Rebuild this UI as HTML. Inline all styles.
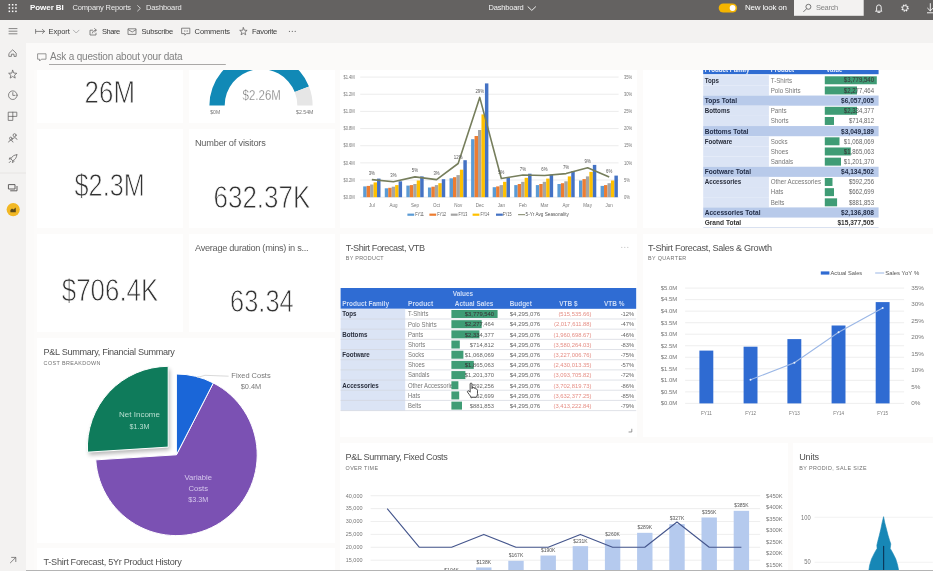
<!DOCTYPE html>
<html lang="en"><head><meta charset="utf-8"><title>Power BI - Dashboard</title>
<style>
*{box-sizing:border-box;margin:0;padding:0}
html,body{width:933px;height:571px;overflow:hidden;background:#fbfaf9;font-family:"Liberation Sans",sans-serif;}
body{position:relative}
header,nav,main,.toolbar,.qna{position:absolute;overflow:hidden}
header{left:0;top:0;width:933px;height:20px;background:#646261}
nav{left:0;top:20px;width:26px;height:551px;background:#f3f2f1}
.toolbar{left:26px;top:20px;width:907px;height:22.5px;background:#f3f2f1}
main{left:0;top:43px;width:933px;height:528px;}
.t{position:absolute;white-space:nowrap;display:block;font-weight:normal}
svg{position:absolute;overflow:visible}
svg text{font-family:"Liberation Sans",sans-serif}
.tile{position:absolute;background:#fff;overflow:hidden}
header>*,nav>*,.toolbar>*,.qna>*,main{filter:blur(.55px)}
.ic{fill:none;stroke:#626060;stroke-width:.75;stroke-linecap:round;stroke-linejoin:round}
.icw{fill:none;stroke:#fff;stroke-width:.9;stroke-linecap:round;stroke-linejoin:round}
</style></head><body>
<header>
<svg width="933" height="20" viewBox="0 0 933 20" style="left:0;top:0">
<rect x="8.6" y="4" width="1.5" height="1.5" fill="#fff"/>
<rect x="8.6" y="7.3" width="1.5" height="1.5" fill="#fff"/>
<rect x="8.6" y="10.6" width="1.5" height="1.5" fill="#fff"/>
<rect x="11.9" y="4" width="1.5" height="1.5" fill="#fff"/>
<rect x="11.9" y="7.3" width="1.5" height="1.5" fill="#fff"/>
<rect x="11.9" y="10.6" width="1.5" height="1.5" fill="#fff"/>
<rect x="15.2" y="4" width="1.5" height="1.5" fill="#fff"/>
<rect x="15.2" y="7.3" width="1.5" height="1.5" fill="#fff"/>
<rect x="15.2" y="10.6" width="1.5" height="1.5" fill="#fff"/>
<polyline class="icw" points="137.6,5.6 140.4,8.3 137.6,11" style="stroke-width:.8;stroke:#e6e6e6"/>
<polyline class="icw" points="528,6.8 531.8,10.4 535.6,6.8"/>
<rect x="718.7" y="3.4" width="18.4" height="9.2" rx="4.6" fill="#f4b400"/><circle cx="732.6" cy="8" r="2.9" fill="#fff"/>
<rect x="794" y="0" width="69.7" height="15.8" fill="#f3f2f1"/>
<circle cx="808.4" cy="6.8" r="2.5" fill="none" stroke="#555" stroke-width=".8"/><line x1="806.6" y1="8.7" x2="803.4" y2="11.9" stroke="#555" stroke-width=".8"/>
<path class="icw" d="M876.6 10.2V7.2a2.3 2.3 0 0 1 4.6 0v3l.7 1h-6z M877.9 12.4h2"/>
<circle cx="905" cy="8" r="3.1" fill="none" stroke="#fff" stroke-width="1.2" stroke-dasharray="1.3 1.13"/><circle cx="905" cy="8" r="2.4" fill="none" stroke="#fff" stroke-width=".8"/>
<path class="icw" d="M930.3 3.6v7.2M927.6 8.2l2.7 2.7 2.7-2.7M927.4 12.8h6"/>
</svg>
<span class="t" style="left:30px;top:4px;font-size:8px;line-height:8px;letter-spacing:-0.066px;color:#fff;font-weight:bold;">Power BI</span>
<span class="t" style="left:72.4px;top:4.25px;font-size:7.5px;line-height:7.5px;letter-spacing:-0.123px;color:#ececec;">Company Reports</span>
<span class="t" style="left:146px;top:4.25px;font-size:7.5px;line-height:7.5px;letter-spacing:-0.121px;color:#ececec;">Dashboard</span>
<span class="t" style="left:488.6px;top:4.25px;font-size:7.5px;line-height:7.5px;letter-spacing:-0.199px;color:#f4f4f4;">Dashboard</span>
<span class="t" style="left:745px;top:4px;font-size:8px;line-height:8px;letter-spacing:-0.211px;color:#fff;">New look on</span>
<span class="t" style="left:816px;top:4.25px;font-size:7.5px;line-height:7.5px;letter-spacing:-0.294px;color:#858585;">Search</span>
</header>
<nav>
<svg width="26" height="551" viewBox="0 20 26 551" style="left:0;top:0">
<line class="ic" x1="9" y1="28.6" x2="17" y2="28.6"/>
<line class="ic" x1="9" y1="31.2" x2="17" y2="31.2"/>
<line class="ic" x1="9" y1="33.8" x2="17" y2="33.8"/>
<path class="ic" d="M9.2 53.2L12.7 49.8L16.2 53.2V56.4H14V54.2H11.4V56.4H9.2Z"/>
<polygon class="ic" points="12.7,70.3 13.82,73.06 16.79,73.27 14.51,75.19 15.23,78.08 12.7,76.5 10.17,78.08 10.89,75.19 8.61,73.27 11.58,73.06"/>
<circle class="ic" cx="12.8" cy="95.2" r="4.3"/><path class="ic" d="M12.8 92.6V95.4H15"/>
<path class="ic" d="M8.6 112.2H16.8V116.4H12.8V120.4H8.6Z M12.8 112.2V116.4 M8.6 116.4H12.8"/>
<circle class="ic" cx="14.6" cy="135.2" r="1.5"/><circle class="ic" cx="10.8" cy="138.4" r="1.3"/><path class="ic" d="M12.4 139.4a2.4 2.4 0 0 1 4.6 0 M8.6 142a2.3 2.3 0 0 1 4.4 0"/>
<path class="ic" d="M16.8 154.8c-2.6 0-4.6 1.4-6 4l2 2c2.6-1.4 4-3.4 4-6Z M10.8 158.8l-1.8.4 1.2-1.8 M12.8 160.8l-.4 1.8 1.8-1.2 M9.2 162.6l1.4-1.4"/>
<line x1="0" y1="173" x2="26" y2="173" stroke="#e3e2e1" stroke-width=".8"/>
<path class="ic" d="M8.8 184.6H15V189H8.8Z M10.6 190.8H17V186.4" style="stroke-width:1"/>
<circle cx="13.2" cy="209.6" r="6.6" fill="#f2b824"/><path d="M10.4 212.2V210l1.6-1.6 1.4 1 2.4-2v4.8Z" fill="#5b4a1a"/>
<path class="ic" d="M10.4 562.8L15.6 557.6M11.6 557.4H15.8V561.6"/>
</svg>
</nav>
<div class="toolbar">
<svg width="907" height="23" viewBox="26 20 907 23" style="left:0;top:0">
<path class="ic" d="M35.6 29.4V33.4M36 31.4H44.4M42.4 29.4L44.6 31.4L42.4 33.4"/>
<polyline class="ic" points="73.4,30.2 76.2,33 79,30.2" style="stroke:#999"/>
<path class="ic" d="M92.6 30.2H90V35H96V33.2 M92.4 33c.4-1.8 1.6-2.8 3.6-2.8M94.6 28.6L96.4 30.2L94.6 31.8"/>
<path class="ic" d="M128.4 28.8H136V34.4H128.4Z M128.6 29.8L132.2 32L135.8 29.8"/>
<path class="ic" d="M182 28.2H189.8V33.6H186.6L184.8 35.2V33.6H182Z M184.4 31h.2M185.9 31h.2M187.4 31h.2"/>
<polygon class="ic" points="243.4,27.7 244.4,30.22 247.11,30.39 245.02,32.13 245.69,34.76 243.4,33.3 241.11,34.76 241.78,32.13 239.69,30.39 242.4,30.22"/>
<circle cx="289.4" cy="31.4" r=".55" fill="#666"/>
<circle cx="292.3" cy="31.4" r=".55" fill="#666"/>
<circle cx="295.2" cy="31.4" r=".55" fill="#666"/>
</svg>
<span class="t" style="left:22.6px;top:7.65px;font-size:7.5px;line-height:7.5px;letter-spacing:-0.079px;color:#3a3a3a;">Export</span>
<span class="t" style="left:76px;top:7.65px;font-size:7.5px;line-height:7.5px;letter-spacing:-0.463px;color:#3a3a3a;">Share</span>
<span class="t" style="left:115.5px;top:7.65px;font-size:7.5px;line-height:7.5px;letter-spacing:-0.206px;color:#3a3a3a;">Subscribe</span>
<span class="t" style="left:168.6px;top:7.65px;font-size:7.5px;line-height:7.5px;letter-spacing:-0.107px;color:#3a3a3a;">Comments</span>
<span class="t" style="left:226px;top:7.65px;font-size:7.5px;line-height:7.5px;letter-spacing:-0.262px;color:#3a3a3a;">Favorite</span>
</div>
<div class="qna" style="left:0;top:43px;width:933px;height:26.5px">
<svg width="200" height="30" viewBox="30 45 200 30" style="left:30px;top:2px">
<path class="ic" d="M38 53.8H46V59.2H41.4L39.6 61V59.2H38Z" style="stroke:#777"/>
<line x1="49" y1="64.6" x2="225.8" y2="64.6" stroke="#8a8886" stroke-width=".8"/>
</svg>
<span class="t" style="left:50px;top:9px;font-size:10px;line-height:10px;letter-spacing:-0.182px;color:#828282;">Ask a question about your data</span>
</div>
<main style="top:69.5px;height:501.5px"><div style="position:absolute;left:34px;top:0;width:899px;height:502px;background:#fcfbfa"></div>
<section class="tile" aria-label="Card" style="left:37px;top:0px;width:146px;height:53.8px">
<svg class="viz" viewBox="37 69.5 146 53.8" width="146" height="53.8" style="left:0px;top:0px">
<text x="84.6" y="102.9" font-size="30.96" fill="#333" stroke="#fff" stroke-width="0.8" textLength="50.4" lengthAdjust="spacingAndGlyphs">26M</text>
</svg>
</section>
<section class="tile" aria-label="Gauge" style="left:188.8px;top:0px;width:146px;height:53.8px">
<svg class="viz" viewBox="188.8 69.5 146 53.8" width="146" height="53.8" style="left:0px;top:0px">
<path d="M209.2 104.9A51.6 51.6 0 0 1 308.81 85.99L294.57 91.6A36.3 36.3 0 0 0 224.5 104.9Z" fill="#1189b6"/>
<path d="M308.81 85.99A51.6 51.6 0 0 1 312.4 104.9L297.1 104.9A36.3 36.3 0 0 0 294.57 91.6Z" fill="#e6e6e6"/>
<text x="242.4" y="99.8" font-size="14.7" fill="#444" stroke="#fff" stroke-width=".5" textLength="38.3" lengthAdjust="spacingAndGlyphs">$2.26M</text>
<text x="210" y="113.93" font-size="5.6" fill="#777" textLength="10" lengthAdjust="spacingAndGlyphs">$0M</text>
<text x="295.8" y="113.93" font-size="5.6" fill="#777" textLength="17.4" lengthAdjust="spacingAndGlyphs">$2.54M</text>
</svg>
</section>
<section class="tile" aria-label="Monthly sales chart" style="left:339.8px;top:0px;width:297.2px;height:158.5px">
<svg class="viz" viewBox="339.8 69.5 297.2 158.5" width="297.2" height="158.5" style="left:0px;top:0px">
<line x1="360" y1="196.7" x2="618.4" y2="196.7" stroke="#e4e4e4" stroke-width="0.7"/>
<text x="343.2" y="198.35" font-size="4.8" fill="#777" textLength="11.4" lengthAdjust="spacingAndGlyphs">$0.0M</text>
<text x="623.8" y="198.35" font-size="4.8" fill="#777" textLength="6" lengthAdjust="spacingAndGlyphs">0%</text>
<line x1="360" y1="179.54" x2="618.4" y2="179.54" stroke="#e4e4e4" stroke-width="0.7"/>
<text x="343.2" y="181.19" font-size="4.8" fill="#777" textLength="11.4" lengthAdjust="spacingAndGlyphs">$0.2M</text>
<text x="623.8" y="181.19" font-size="4.8" fill="#777" textLength="6" lengthAdjust="spacingAndGlyphs">5%</text>
<line x1="360" y1="162.38" x2="618.4" y2="162.38" stroke="#e4e4e4" stroke-width="0.7"/>
<text x="343.2" y="164.03" font-size="4.8" fill="#777" textLength="11.4" lengthAdjust="spacingAndGlyphs">$0.4M</text>
<text x="623.8" y="164.03" font-size="4.8" fill="#777" textLength="8.2" lengthAdjust="spacingAndGlyphs">10%</text>
<line x1="360" y1="145.22" x2="618.4" y2="145.22" stroke="#e4e4e4" stroke-width="0.7"/>
<text x="343.2" y="146.87" font-size="4.8" fill="#777" textLength="11.4" lengthAdjust="spacingAndGlyphs">$0.6M</text>
<text x="623.8" y="146.87" font-size="4.8" fill="#777" textLength="8.2" lengthAdjust="spacingAndGlyphs">15%</text>
<line x1="360" y1="128.06" x2="618.4" y2="128.06" stroke="#e4e4e4" stroke-width="0.7"/>
<text x="343.2" y="129.71" font-size="4.8" fill="#777" textLength="11.4" lengthAdjust="spacingAndGlyphs">$0.8M</text>
<text x="623.8" y="129.71" font-size="4.8" fill="#777" textLength="8.2" lengthAdjust="spacingAndGlyphs">20%</text>
<line x1="360" y1="110.9" x2="618.4" y2="110.9" stroke="#e4e4e4" stroke-width="0.7"/>
<text x="343.2" y="112.55" font-size="4.8" fill="#777" textLength="11.4" lengthAdjust="spacingAndGlyphs">$1.0M</text>
<text x="623.8" y="112.55" font-size="4.8" fill="#777" textLength="8.2" lengthAdjust="spacingAndGlyphs">25%</text>
<line x1="360" y1="93.74" x2="618.4" y2="93.74" stroke="#e4e4e4" stroke-width="0.7"/>
<text x="343.2" y="95.39" font-size="4.8" fill="#777" textLength="11.4" lengthAdjust="spacingAndGlyphs">$1.2M</text>
<text x="623.8" y="95.39" font-size="4.8" fill="#777" textLength="8.2" lengthAdjust="spacingAndGlyphs">30%</text>
<line x1="360" y1="76.58" x2="618.4" y2="76.58" stroke="#e4e4e4" stroke-width="0.7"/>
<text x="343.2" y="78.23" font-size="4.8" fill="#777" textLength="11.4" lengthAdjust="spacingAndGlyphs">$1.4M</text>
<text x="623.8" y="78.23" font-size="4.8" fill="#777" textLength="8.2" lengthAdjust="spacingAndGlyphs">35%</text>
<rect x="363" y="185.9" width="3.46" height="10.8" fill="#5b9bd5"/>
<rect x="366.46" y="185.4" width="3.46" height="11.3" fill="#ed7d31"/>
<rect x="369.92" y="184" width="3.46" height="12.7" fill="#a5a5a5"/>
<rect x="373.38" y="181.9" width="3.46" height="14.8" fill="#ffc000"/>
<rect x="376.84" y="178.1" width="3.46" height="18.6" fill="#4472c4"/>
<text x="371.65" y="206.25" font-size="4.8" fill="#777" text-anchor="middle" textLength="5.77" lengthAdjust="spacingAndGlyphs">Jul</text>
<rect x="384.58" y="187.8" width="3.46" height="8.9" fill="#5b9bd5"/>
<rect x="388.04" y="187.3" width="3.46" height="9.4" fill="#ed7d31"/>
<rect x="391.5" y="186.2" width="3.46" height="10.5" fill="#a5a5a5"/>
<rect x="394.96" y="184.6" width="3.46" height="12.1" fill="#ffc000"/>
<rect x="398.42" y="180.8" width="3.46" height="15.9" fill="#4472c4"/>
<text x="393.23" y="206.25" font-size="4.8" fill="#777" text-anchor="middle" textLength="8.03" lengthAdjust="spacingAndGlyphs">Aug</text>
<rect x="406.16" y="185.1" width="3.46" height="11.6" fill="#5b9bd5"/>
<rect x="409.62" y="184.6" width="3.46" height="12.1" fill="#ed7d31"/>
<rect x="413.08" y="183.5" width="3.46" height="13.2" fill="#a5a5a5"/>
<rect x="416.54" y="180" width="3.46" height="16.7" fill="#ffc000"/>
<rect x="420" y="175.9" width="3.46" height="20.8" fill="#4472c4"/>
<text x="414.81" y="206.25" font-size="4.8" fill="#777" text-anchor="middle" textLength="8.03" lengthAdjust="spacingAndGlyphs">Sep</text>
<rect x="427.74" y="187" width="3.46" height="9.7" fill="#5b9bd5"/>
<rect x="431.2" y="186.2" width="3.46" height="10.5" fill="#ed7d31"/>
<rect x="434.66" y="184.6" width="3.46" height="12.1" fill="#a5a5a5"/>
<rect x="438.12" y="182.7" width="3.46" height="14" fill="#ffc000"/>
<rect x="441.58" y="178.7" width="3.46" height="18" fill="#4472c4"/>
<text x="436.39" y="206.25" font-size="4.8" fill="#777" text-anchor="middle" textLength="7.02" lengthAdjust="spacingAndGlyphs">Oct</text>
<rect x="449.32" y="177.8" width="3.46" height="18.9" fill="#5b9bd5"/>
<rect x="452.78" y="176.7" width="3.46" height="20" fill="#ed7d31"/>
<rect x="456.24" y="174.6" width="3.46" height="22.1" fill="#a5a5a5"/>
<rect x="459.7" y="169.2" width="3.46" height="27.5" fill="#ffc000"/>
<rect x="463.16" y="159.7" width="3.46" height="37" fill="#4472c4"/>
<text x="457.97" y="206.25" font-size="4.8" fill="#777" text-anchor="middle" textLength="8.02" lengthAdjust="spacingAndGlyphs">Nov</text>
<rect x="470.9" y="138.7" width="3.46" height="58" fill="#5b9bd5"/>
<rect x="474.36" y="135.5" width="3.46" height="61.2" fill="#ed7d31"/>
<rect x="477.82" y="129.5" width="3.46" height="67.2" fill="#a5a5a5"/>
<rect x="481.28" y="113.9" width="3.46" height="82.8" fill="#ffc000"/>
<rect x="484.74" y="82.9" width="3.46" height="113.8" fill="#4472c4"/>
<text x="479.55" y="206.25" font-size="4.8" fill="#777" text-anchor="middle" textLength="8.02" lengthAdjust="spacingAndGlyphs">Dec</text>
<rect x="492.48" y="186.7" width="3.46" height="10" fill="#5b9bd5"/>
<rect x="495.94" y="185.9" width="3.46" height="10.8" fill="#ed7d31"/>
<rect x="499.4" y="184.6" width="3.46" height="12.1" fill="#a5a5a5"/>
<rect x="502.86" y="181.3" width="3.46" height="15.4" fill="#ffc000"/>
<rect x="506.32" y="177.3" width="3.46" height="19.4" fill="#4472c4"/>
<text x="501.13" y="206.25" font-size="4.8" fill="#777" text-anchor="middle" textLength="7.27" lengthAdjust="spacingAndGlyphs">Jan</text>
<rect x="514.06" y="184.6" width="3.46" height="12.1" fill="#5b9bd5"/>
<rect x="517.52" y="183.5" width="3.46" height="13.2" fill="#ed7d31"/>
<rect x="520.98" y="181.3" width="3.46" height="15.4" fill="#a5a5a5"/>
<rect x="524.44" y="177.3" width="3.46" height="19.4" fill="#ffc000"/>
<rect x="527.9" y="173.2" width="3.46" height="23.5" fill="#4472c4"/>
<text x="522.71" y="206.25" font-size="4.8" fill="#777" text-anchor="middle" textLength="7.78" lengthAdjust="spacingAndGlyphs">Feb</text>
<rect x="535.64" y="184.6" width="3.46" height="12.1" fill="#5b9bd5"/>
<rect x="539.1" y="183.5" width="3.46" height="13.2" fill="#ed7d31"/>
<rect x="542.56" y="181.3" width="3.46" height="15.4" fill="#a5a5a5"/>
<rect x="546.02" y="178.1" width="3.46" height="18.6" fill="#ffc000"/>
<rect x="549.48" y="174.1" width="3.46" height="22.6" fill="#4472c4"/>
<text x="544.29" y="206.25" font-size="4.8" fill="#777" text-anchor="middle" textLength="7.77" lengthAdjust="spacingAndGlyphs">Mar</text>
<rect x="557.22" y="183.5" width="3.46" height="13.2" fill="#5b9bd5"/>
<rect x="560.68" y="182.7" width="3.46" height="14" fill="#ed7d31"/>
<rect x="564.14" y="180.8" width="3.46" height="15.9" fill="#a5a5a5"/>
<rect x="567.6" y="175.9" width="3.46" height="20.8" fill="#ffc000"/>
<rect x="571.06" y="170.6" width="3.46" height="26.1" fill="#4472c4"/>
<text x="565.87" y="206.25" font-size="4.8" fill="#777" text-anchor="middle" textLength="7.02" lengthAdjust="spacingAndGlyphs">Apr</text>
<rect x="578.8" y="180" width="3.46" height="16.7" fill="#5b9bd5"/>
<rect x="582.26" y="178.6" width="3.46" height="18.1" fill="#ed7d31"/>
<rect x="585.72" y="175.9" width="3.46" height="20.8" fill="#a5a5a5"/>
<rect x="589.18" y="171.4" width="3.46" height="25.3" fill="#ffc000"/>
<rect x="592.64" y="164.4" width="3.46" height="32.3" fill="#4472c4"/>
<text x="587.45" y="206.25" font-size="4.8" fill="#777" text-anchor="middle" textLength="8.52" lengthAdjust="spacingAndGlyphs">May</text>
<rect x="600.38" y="185.4" width="3.46" height="11.3" fill="#5b9bd5"/>
<rect x="603.84" y="184.6" width="3.46" height="12.1" fill="#ed7d31"/>
<rect x="607.3" y="182.7" width="3.46" height="14" fill="#a5a5a5"/>
<rect x="610.76" y="180" width="3.46" height="16.7" fill="#ffc000"/>
<rect x="614.22" y="175.1" width="3.46" height="21.6" fill="#4472c4"/>
<text x="609.03" y="206.25" font-size="4.8" fill="#777" text-anchor="middle" textLength="7.27" lengthAdjust="spacingAndGlyphs">Jun</text>
<polyline points="371.65,179.1 393.23,181.3 414.81,176.4 436.39,179.1 457.97,163 479.55,96.9 501.13,178 522.71,174.5 544.29,175 565.87,173.1 587.45,167.2 609.03,176.6" fill="none" stroke="#767e5c" stroke-width="1.6" stroke-linejoin="round"/>
<text x="371.65" y="174.68" font-size="4.6" fill="#555" text-anchor="middle" textLength="6.25" lengthAdjust="spacingAndGlyphs">3%</text>
<text x="393.23" y="176.88" font-size="4.6" fill="#555" text-anchor="middle" textLength="6.25" lengthAdjust="spacingAndGlyphs">3%</text>
<text x="414.81" y="171.98" font-size="4.6" fill="#555" text-anchor="middle" textLength="6.25" lengthAdjust="spacingAndGlyphs">5%</text>
<text x="436.39" y="174.68" font-size="4.6" fill="#555" text-anchor="middle" textLength="6.25" lengthAdjust="spacingAndGlyphs">3%</text>
<text x="457.97" y="158.58" font-size="4.6" fill="#555" text-anchor="middle" textLength="8.65" lengthAdjust="spacingAndGlyphs">12%</text>
<text x="479.55" y="92.48" font-size="4.6" fill="#555" text-anchor="middle" textLength="8.65" lengthAdjust="spacingAndGlyphs">29%</text>
<text x="501.13" y="173.58" font-size="4.6" fill="#555" text-anchor="middle" textLength="6.25" lengthAdjust="spacingAndGlyphs">5%</text>
<text x="522.71" y="170.08" font-size="4.6" fill="#555" text-anchor="middle" textLength="6.25" lengthAdjust="spacingAndGlyphs">7%</text>
<text x="544.29" y="170.58" font-size="4.6" fill="#555" text-anchor="middle" textLength="6.25" lengthAdjust="spacingAndGlyphs">6%</text>
<text x="565.87" y="168.68" font-size="4.6" fill="#555" text-anchor="middle" textLength="6.25" lengthAdjust="spacingAndGlyphs">7%</text>
<text x="587.45" y="162.78" font-size="4.6" fill="#555" text-anchor="middle" textLength="6.25" lengthAdjust="spacingAndGlyphs">9%</text>
<text x="609.03" y="172.18" font-size="4.6" fill="#555" text-anchor="middle" textLength="6.25" lengthAdjust="spacingAndGlyphs">6%</text>
<rect x="407.2" y="213.1" width="6.8" height="2.2" fill="#5b9bd5"/>
<text x="415" y="215.78" font-size="4.6" fill="#555" textLength="8.8" lengthAdjust="spacingAndGlyphs">FY11</text>
<rect x="429.2" y="213.1" width="6.8" height="2.2" fill="#ed7d31"/>
<text x="437" y="215.78" font-size="4.6" fill="#555" textLength="8.8" lengthAdjust="spacingAndGlyphs">FY12</text>
<rect x="450.6" y="213.1" width="6.8" height="2.2" fill="#a5a5a5"/>
<text x="458.2" y="215.78" font-size="4.6" fill="#555" textLength="8.8" lengthAdjust="spacingAndGlyphs">FY13</text>
<rect x="472.4" y="213.1" width="6.8" height="2.2" fill="#ffc000"/>
<text x="480.2" y="215.78" font-size="4.6" fill="#555" textLength="8.8" lengthAdjust="spacingAndGlyphs">FY14</text>
<rect x="495.8" y="213.1" width="6.8" height="2.2" fill="#4472c4"/>
<text x="502.5" y="215.78" font-size="4.6" fill="#555" textLength="8.8" lengthAdjust="spacingAndGlyphs">FY15</text>
<line x1="517.9" y1="214.2" x2="524.9" y2="214.2" stroke="#7a8262" stroke-width="1"/>
<text x="525.4" y="215.78" font-size="4.6" fill="#555" textLength="43.2" lengthAdjust="spacingAndGlyphs">5-Yr Avg Seasonality</text>
</svg>
</section>
<section class="tile" aria-label="Sales matrix" style="left:642.8px;top:0px;width:297.2px;height:158.5px">
<svg class="viz" viewBox="642.8 69.5 290.2 158.5" width="290.2" height="158.5" style="left:0px;top:0px">
<rect x="703" y="62" width="175.4" height="11.7" fill="#2f6cd2"/>
<text x="704.5" y="71.87" font-size="6.6" fill="#e8eefb" font-weight="bold" textLength="44.82" lengthAdjust="spacingAndGlyphs">Product Family</text>
<text x="770.5" y="71.87" font-size="6.6" fill="#e8eefb" font-weight="bold" textLength="23.44" lengthAdjust="spacingAndGlyphs">Product</text>
<text x="826" y="71.87" font-size="6.6" fill="#e8eefb" font-weight="bold" textLength="16.21" lengthAdjust="spacingAndGlyphs">Value</text>
<rect x="703" y="74.7" width="65.7" height="10.17" fill="#dbe4f5"/>
<text x="704.5" y="82.06" font-size="6.6" fill="#2a2f3d" font-weight="bold" textLength="14.36" lengthAdjust="spacingAndGlyphs">Tops</text>
<text x="770.5" y="82.06" font-size="6.6" fill="#777" textLength="21.37" lengthAdjust="spacingAndGlyphs">T-Shirts</text>
<rect x="824.6" y="75.8" width="52" height="7.97" fill="#3f9c75"/>
<text x="873.8" y="81.99" font-size="6.4" fill="#666" text-anchor="end" textLength="30.11" lengthAdjust="spacingAndGlyphs">$3,779,540</text>
<clipPath id="cd0"><rect x="824.6" y="75.8" width="52" height="7.97"/></clipPath>
<text x="873.8" y="81.99" font-size="6.4" fill="#27483a" text-anchor="end" textLength="30.11" lengthAdjust="spacingAndGlyphs" clip-path="url(#cd0)">$3,779,540</text>
<rect x="703" y="84.87" width="65.7" height="10.17" fill="#dbe4f5"/>
<text x="770.5" y="92.23" font-size="6.6" fill="#777" textLength="30" lengthAdjust="spacingAndGlyphs">Polo Shirts</text>
<rect x="824.6" y="85.97" width="32.2" height="7.97" fill="#3f9c75"/>
<text x="873.8" y="92.16" font-size="6.4" fill="#666" text-anchor="end" textLength="30.11" lengthAdjust="spacingAndGlyphs">$2,277,464</text>
<clipPath id="cd1"><rect x="824.6" y="85.97" width="32.2" height="7.97"/></clipPath>
<text x="873.8" y="92.16" font-size="6.4" fill="#27483a" text-anchor="end" textLength="30.11" lengthAdjust="spacingAndGlyphs" clip-path="url(#cd1)">$2,277,464</text>
<rect x="703" y="95.04" width="175.4" height="10.17" fill="#b8caea"/>
<text x="704.5" y="102.53" font-size="7" fill="#1f2a44" font-weight="bold" textLength="32.29" lengthAdjust="spacingAndGlyphs">Tops Total</text>
<text x="873.8" y="102.53" font-size="7" fill="#1f2a44" text-anchor="end" font-weight="bold" textLength="32.93" lengthAdjust="spacingAndGlyphs">$6,057,005</text>
<rect x="703" y="105.21" width="65.7" height="10.17" fill="#dbe4f5"/>
<text x="704.5" y="112.57" font-size="6.6" fill="#2a2f3d" font-weight="bold" textLength="25.16" lengthAdjust="spacingAndGlyphs">Bottoms</text>
<text x="770.5" y="112.57" font-size="6.6" fill="#777" textLength="15.86" lengthAdjust="spacingAndGlyphs">Pants</text>
<rect x="824.6" y="106.31" width="32.2" height="7.97" fill="#3f9c75"/>
<text x="873.8" y="112.5" font-size="6.4" fill="#666" text-anchor="end" textLength="30.11" lengthAdjust="spacingAndGlyphs">$2,334,377</text>
<clipPath id="cd3"><rect x="824.6" y="106.31" width="32.2" height="7.97"/></clipPath>
<text x="873.8" y="112.5" font-size="6.4" fill="#27483a" text-anchor="end" textLength="30.11" lengthAdjust="spacingAndGlyphs" clip-path="url(#cd3)">$2,334,377</text>
<rect x="703" y="115.38" width="65.7" height="10.17" fill="#dbe4f5"/>
<text x="770.5" y="122.74" font-size="6.6" fill="#777" textLength="17.93" lengthAdjust="spacingAndGlyphs">Shorts</text>
<rect x="824.6" y="116.48" width="9.2" height="7.97" fill="#3f9c75"/>
<text x="873.8" y="122.67" font-size="6.4" fill="#666" text-anchor="end" textLength="25.09" lengthAdjust="spacingAndGlyphs">$714,812</text>
<clipPath id="cd4"><rect x="824.6" y="116.48" width="9.2" height="7.97"/></clipPath>
<text x="873.8" y="122.67" font-size="6.4" fill="#27483a" text-anchor="end" textLength="25.09" lengthAdjust="spacingAndGlyphs" clip-path="url(#cd4)">$714,812</text>
<rect x="703" y="125.55" width="175.4" height="10.17" fill="#b8caea"/>
<text x="704.5" y="133.04" font-size="7" fill="#1f2a44" font-weight="bold" textLength="43.74" lengthAdjust="spacingAndGlyphs">Bottoms Total</text>
<text x="873.8" y="133.04" font-size="7" fill="#1f2a44" text-anchor="end" font-weight="bold" textLength="32.93" lengthAdjust="spacingAndGlyphs">$3,049,189</text>
<rect x="703" y="135.72" width="65.7" height="10.17" fill="#dbe4f5"/>
<text x="704.5" y="143.08" font-size="6.6" fill="#2a2f3d" font-weight="bold" textLength="27.58" lengthAdjust="spacingAndGlyphs">Footware</text>
<text x="770.5" y="143.08" font-size="6.6" fill="#777" textLength="16.89" lengthAdjust="spacingAndGlyphs">Socks</text>
<rect x="824.6" y="136.82" width="14.7" height="7.97" fill="#3f9c75"/>
<text x="873.8" y="143.01" font-size="6.4" fill="#666" text-anchor="end" textLength="30.11" lengthAdjust="spacingAndGlyphs">$1,068,069</text>
<clipPath id="cd6"><rect x="824.6" y="136.82" width="14.7" height="7.97"/></clipPath>
<text x="873.8" y="143.01" font-size="6.4" fill="#27483a" text-anchor="end" textLength="30.11" lengthAdjust="spacingAndGlyphs" clip-path="url(#cd6)">$1,068,069</text>
<rect x="703" y="145.89" width="65.7" height="10.17" fill="#dbe4f5"/>
<text x="770.5" y="153.25" font-size="6.6" fill="#777" textLength="17.59" lengthAdjust="spacingAndGlyphs">Shoes</text>
<rect x="824.6" y="146.99" width="26" height="7.97" fill="#3f9c75"/>
<text x="873.8" y="153.18" font-size="6.4" fill="#666" text-anchor="end" textLength="30.11" lengthAdjust="spacingAndGlyphs">$1,865,063</text>
<clipPath id="cd7"><rect x="824.6" y="146.99" width="26" height="7.97"/></clipPath>
<text x="873.8" y="153.18" font-size="6.4" fill="#27483a" text-anchor="end" textLength="30.11" lengthAdjust="spacingAndGlyphs" clip-path="url(#cd7)">$1,865,063</text>
<rect x="703" y="156.06" width="65.7" height="10.17" fill="#dbe4f5"/>
<text x="770.5" y="163.42" font-size="6.6" fill="#777" textLength="22.42" lengthAdjust="spacingAndGlyphs">Sandals</text>
<rect x="824.6" y="157.16" width="16.2" height="7.97" fill="#3f9c75"/>
<text x="873.8" y="163.35" font-size="6.4" fill="#666" text-anchor="end" textLength="30.11" lengthAdjust="spacingAndGlyphs">$1,201,370</text>
<clipPath id="cd8"><rect x="824.6" y="157.16" width="16.2" height="7.97"/></clipPath>
<text x="873.8" y="163.35" font-size="6.4" fill="#27483a" text-anchor="end" textLength="30.11" lengthAdjust="spacingAndGlyphs" clip-path="url(#cd8)">$1,201,370</text>
<rect x="703" y="166.23" width="175.4" height="10.17" fill="#b8caea"/>
<text x="704.5" y="173.72" font-size="7" fill="#1f2a44" font-weight="bold" textLength="46.31" lengthAdjust="spacingAndGlyphs">Footware Total</text>
<text x="873.8" y="173.72" font-size="7" fill="#1f2a44" text-anchor="end" font-weight="bold" textLength="32.93" lengthAdjust="spacingAndGlyphs">$4,134,502</text>
<rect x="703" y="176.4" width="65.7" height="10.17" fill="#dbe4f5"/>
<text x="704.5" y="183.76" font-size="6.6" fill="#2a2f3d" font-weight="bold" textLength="36.56" lengthAdjust="spacingAndGlyphs">Accessories</text>
<text x="770.5" y="183.76" font-size="6.6" fill="#777" textLength="50.34" lengthAdjust="spacingAndGlyphs">Other Accessories</text>
<rect x="824.6" y="177.5" width="7.7" height="7.97" fill="#3f9c75"/>
<text x="873.8" y="183.69" font-size="6.4" fill="#666" text-anchor="end" textLength="25.09" lengthAdjust="spacingAndGlyphs">$592,256</text>
<clipPath id="cd10"><rect x="824.6" y="177.5" width="7.7" height="7.97"/></clipPath>
<text x="873.8" y="183.69" font-size="6.4" fill="#27483a" text-anchor="end" textLength="25.09" lengthAdjust="spacingAndGlyphs" clip-path="url(#cd10)">$592,256</text>
<rect x="703" y="186.57" width="65.7" height="10.17" fill="#dbe4f5"/>
<text x="770.5" y="193.93" font-size="6.6" fill="#777" textLength="12.76" lengthAdjust="spacingAndGlyphs">Hats</text>
<rect x="824.6" y="187.67" width="9.2" height="7.97" fill="#3f9c75"/>
<text x="873.8" y="193.86" font-size="6.4" fill="#666" text-anchor="end" textLength="25.09" lengthAdjust="spacingAndGlyphs">$662,699</text>
<clipPath id="cd11"><rect x="824.6" y="187.67" width="9.2" height="7.97"/></clipPath>
<text x="873.8" y="193.86" font-size="6.4" fill="#27483a" text-anchor="end" textLength="25.09" lengthAdjust="spacingAndGlyphs" clip-path="url(#cd11)">$662,699</text>
<rect x="703" y="196.74" width="65.7" height="10.17" fill="#dbe4f5"/>
<text x="770.5" y="204.1" font-size="6.6" fill="#777" textLength="13.79" lengthAdjust="spacingAndGlyphs">Belts</text>
<rect x="824.6" y="197.84" width="12.3" height="7.97" fill="#3f9c75"/>
<text x="873.8" y="204.03" font-size="6.4" fill="#666" text-anchor="end" textLength="25.09" lengthAdjust="spacingAndGlyphs">$881,853</text>
<clipPath id="cd12"><rect x="824.6" y="197.84" width="12.3" height="7.97"/></clipPath>
<text x="873.8" y="204.03" font-size="6.4" fill="#27483a" text-anchor="end" textLength="25.09" lengthAdjust="spacingAndGlyphs" clip-path="url(#cd12)">$881,853</text>
<rect x="703" y="206.91" width="175.4" height="10.17" fill="#b8caea"/>
<text x="704.5" y="214.4" font-size="7" fill="#1f2a44" font-weight="bold" textLength="55.83" lengthAdjust="spacingAndGlyphs">Accessories Total</text>
<text x="873.8" y="214.4" font-size="7" fill="#1f2a44" text-anchor="end" font-weight="bold" textLength="32.93" lengthAdjust="spacingAndGlyphs">$2,136,808</text>
<text x="704.5" y="224.57" font-size="7" fill="#333" font-weight="bold" textLength="36.43" lengthAdjust="spacingAndGlyphs">Grand Total</text>
<text x="873.8" y="224.57" font-size="7" fill="#333" text-anchor="end" font-weight="bold" textLength="36.59" lengthAdjust="spacingAndGlyphs">$15,377,505</text>
<line x1="703" y1="227.55" x2="878.4" y2="227.55" stroke="#9ab0d8" stroke-width="0.8"/>
</svg>
</section>
<section class="tile" aria-label="Card" style="left:37px;top:59.5px;width:146px;height:99px">
<svg class="viz" viewBox="37 129 146 99" width="146" height="99" style="left:0px;top:0px">
<text x="74.6" y="195.9" font-size="30.96" fill="#333" stroke="#fff" stroke-width="0.8" textLength="70.1" lengthAdjust="spacingAndGlyphs">$2.3M</text>
</svg>
</section>
<section class="tile" aria-label="Number of visitors" style="left:188.8px;top:59.5px;width:146px;height:99px">
<h3 class="t tt" style="left:6.1px;top:10.1px;font-size:9.2px;line-height:9.2px;letter-spacing:-0.185px;color:#606060;">Number of visitors</h3>
<svg class="viz" viewBox="188.8 129 146 99" width="146" height="99" style="left:0px;top:0px">
<text x="213.3" y="207.5" font-size="32.27" fill="#333" stroke="#fff" stroke-width="0.8" textLength="96.8" lengthAdjust="spacingAndGlyphs">632.37K</text>
</svg>
</section>
<section class="tile" aria-label="Card" style="left:37px;top:164.5px;width:146px;height:98.3px">
<svg class="viz" viewBox="37 234 146 98.3" width="146" height="98.3" style="left:0px;top:0px">
<text x="61.8" y="300.8" font-size="31.1" fill="#333" stroke="#fff" stroke-width="0.8" textLength="96.5" lengthAdjust="spacingAndGlyphs">$706.4K</text>
</svg>
</section>
<section class="tile" aria-label="Average duration" style="left:188.8px;top:164.5px;width:146px;height:98.3px">
<h3 class="t tt" style="left:6.3px;top:9.8px;font-size:9.2px;line-height:9.2px;letter-spacing:-0.299px;color:#606060;">Average duration (mins) in s...</h3>
<svg class="viz" viewBox="188.8 234 146 98.3" width="146" height="98.3" style="left:0px;top:0px">
<text x="229.9" y="311.8" font-size="31.54" fill="#333" stroke="#fff" stroke-width="0.8" textLength="63.6" lengthAdjust="spacingAndGlyphs">63.34</text>
</svg>
</section>
<section class="tile" aria-label="T-Shirt Forecast, VTB" style="left:339.8px;top:164.5px;width:297.2px;height:202.8px">
<h3 class="t tt" style="left:6px;top:10.35px;font-size:9.1px;line-height:9.1px;letter-spacing:-0.409px;color:#505050;">T-Shirt Forecast, VTB</h3>
<h4 class="t ts" style="left:6px;top:21.7px;font-size:5.4px;line-height:5.4px;letter-spacing:0.289px;color:#707070;">BY PRODUCT</h4>
<svg class="viz" viewBox="339.8 234 297.2 202.8" width="297.2" height="202.8" style="left:0px;top:0px">
<circle cx="621.6" cy="247.4" r=".6" fill="#c8c8c8"/>
<circle cx="624.6" cy="247.4" r=".6" fill="#c8c8c8"/>
<circle cx="627.6" cy="247.4" r=".6" fill="#c8c8c8"/>
<rect x="340.4" y="288" width="295.6" height="20.8" fill="#2f6cd3"/>
<text x="452.6" y="296.1" font-size="6.4" fill="#cddcf7" font-weight="bold" textLength="20.4" lengthAdjust="spacingAndGlyphs">Values</text>
<text x="342" y="306.1" font-size="6.4" fill="#cddcf7" font-weight="bold" textLength="46.8" lengthAdjust="spacingAndGlyphs">Product Family</text>
<text x="407.8" y="306.1" font-size="6.4" fill="#cddcf7" font-weight="bold" textLength="25.2" lengthAdjust="spacingAndGlyphs">Product</text>
<text x="454.6" y="306.1" font-size="6.4" fill="#cddcf7" font-weight="bold" textLength="38.6" lengthAdjust="spacingAndGlyphs">Actual Sales</text>
<text x="509.5" y="306.1" font-size="6.4" fill="#cddcf7" font-weight="bold" textLength="22.1" lengthAdjust="spacingAndGlyphs">Budget</text>
<text x="559" y="306.1" font-size="6.4" fill="#cddcf7" font-weight="bold" textLength="18.3" lengthAdjust="spacingAndGlyphs">VTB $</text>
<text x="603.9" y="306.1" font-size="6.4" fill="#cddcf7" font-weight="bold" textLength="20.4" lengthAdjust="spacingAndGlyphs">VTB %</text>
<rect x="340.4" y="308.8" width="64.6" height="101.8" fill="#dbe4f5"/>
<line x1="340.4" y1="318.98" x2="636" y2="318.98" stroke="#d2d6de" stroke-width="0.7"/>
<text x="342" y="316.46" font-size="6.6" fill="#2a2f3d" font-weight="bold" textLength="14.36" lengthAdjust="spacingAndGlyphs">Tops</text>
<text x="407.8" y="316.36" font-size="6.3" fill="#777" textLength="20.4" lengthAdjust="spacingAndGlyphs">T-Shirts</text>
<rect x="451.2" y="310" width="46.2" height="7.98" fill="#3f9c75"/>
<text x="493.8" y="316.32" font-size="6.2" fill="#666" text-anchor="end" textLength="29.17" lengthAdjust="spacingAndGlyphs">$3,779,540</text>
<clipPath id="cv0"><rect x="451.2" y="310" width="46.2" height="7.98"/></clipPath>
<text x="493.8" y="316.32" font-size="6.2" fill="#27483a" text-anchor="end" textLength="29.17" lengthAdjust="spacingAndGlyphs" clip-path="url(#cv0)">$3,779,540</text>
<text x="540" y="316.32" font-size="6.2" fill="#666" text-anchor="end" textLength="30.5" lengthAdjust="spacingAndGlyphs">$4,295,076</text>
<text x="591.3" y="316.32" font-size="6.2" fill="#e58d84" text-anchor="end" textLength="33.05" lengthAdjust="spacingAndGlyphs">(515,535.66)</text>
<text x="634.1" y="316.32" font-size="6.2" fill="#666" text-anchor="end" textLength="13.61" lengthAdjust="spacingAndGlyphs">-12%</text>
<line x1="340.4" y1="329.16" x2="636" y2="329.16" stroke="#d2d6de" stroke-width="0.7"/>
<text x="407.8" y="326.54" font-size="6.3" fill="#777" textLength="28.64" lengthAdjust="spacingAndGlyphs">Polo Shirts</text>
<rect x="451.2" y="320.18" width="30.3" height="7.98" fill="#3f9c75"/>
<text x="493.8" y="326.5" font-size="6.2" fill="#666" text-anchor="end" textLength="29.17" lengthAdjust="spacingAndGlyphs">$2,277,464</text>
<clipPath id="cv1"><rect x="451.2" y="320.18" width="30.3" height="7.98"/></clipPath>
<text x="493.8" y="326.5" font-size="6.2" fill="#27483a" text-anchor="end" textLength="29.17" lengthAdjust="spacingAndGlyphs" clip-path="url(#cv1)">$2,277,464</text>
<text x="540" y="326.5" font-size="6.2" fill="#666" text-anchor="end" textLength="30.5" lengthAdjust="spacingAndGlyphs">$4,295,076</text>
<text x="591.3" y="326.5" font-size="6.2" fill="#e58d84" text-anchor="end" textLength="37.48" lengthAdjust="spacingAndGlyphs">(2,017,611.88)</text>
<text x="634.1" y="326.5" font-size="6.2" fill="#666" text-anchor="end" textLength="13.61" lengthAdjust="spacingAndGlyphs">-47%</text>
<line x1="340.4" y1="339.34" x2="636" y2="339.34" stroke="#d2d6de" stroke-width="0.7"/>
<text x="342" y="336.82" font-size="6.6" fill="#2a2f3d" font-weight="bold" textLength="25.16" lengthAdjust="spacingAndGlyphs">Bottoms</text>
<text x="407.8" y="336.72" font-size="6.3" fill="#777" textLength="15.14" lengthAdjust="spacingAndGlyphs">Pants</text>
<rect x="451.2" y="330.36" width="28" height="7.98" fill="#3f9c75"/>
<text x="493.8" y="336.68" font-size="6.2" fill="#666" text-anchor="end" textLength="29.17" lengthAdjust="spacingAndGlyphs">$2,334,377</text>
<clipPath id="cv2"><rect x="451.2" y="330.36" width="28" height="7.98"/></clipPath>
<text x="493.8" y="336.68" font-size="6.2" fill="#27483a" text-anchor="end" textLength="29.17" lengthAdjust="spacingAndGlyphs" clip-path="url(#cv2)">$2,334,377</text>
<text x="540" y="336.68" font-size="6.2" fill="#666" text-anchor="end" textLength="30.5" lengthAdjust="spacingAndGlyphs">$4,295,076</text>
<text x="591.3" y="336.68" font-size="6.2" fill="#e58d84" text-anchor="end" textLength="37.91" lengthAdjust="spacingAndGlyphs">(1,960,698.67)</text>
<text x="634.1" y="336.68" font-size="6.2" fill="#666" text-anchor="end" textLength="13.61" lengthAdjust="spacingAndGlyphs">-46%</text>
<line x1="340.4" y1="349.52" x2="636" y2="349.52" stroke="#d2d6de" stroke-width="0.7"/>
<text x="407.8" y="346.9" font-size="6.3" fill="#777" textLength="17.12" lengthAdjust="spacingAndGlyphs">Shorts</text>
<rect x="451.2" y="340.54" width="8.4" height="7.98" fill="#3f9c75"/>
<text x="493.8" y="346.86" font-size="6.2" fill="#666" text-anchor="end" textLength="24.31" lengthAdjust="spacingAndGlyphs">$714,812</text>
<clipPath id="cv3"><rect x="451.2" y="340.54" width="8.4" height="7.98"/></clipPath>
<text x="493.8" y="346.86" font-size="6.2" fill="#27483a" text-anchor="end" textLength="24.31" lengthAdjust="spacingAndGlyphs" clip-path="url(#cv3)">$714,812</text>
<text x="540" y="346.86" font-size="6.2" fill="#666" text-anchor="end" textLength="30.5" lengthAdjust="spacingAndGlyphs">$4,295,076</text>
<text x="591.3" y="346.86" font-size="6.2" fill="#e58d84" text-anchor="end" textLength="37.91" lengthAdjust="spacingAndGlyphs">(3,580,264.03)</text>
<text x="634.1" y="346.86" font-size="6.2" fill="#666" text-anchor="end" textLength="13.61" lengthAdjust="spacingAndGlyphs">-83%</text>
<line x1="340.4" y1="359.7" x2="636" y2="359.7" stroke="#d2d6de" stroke-width="0.7"/>
<text x="342" y="357.18" font-size="6.6" fill="#2a2f3d" font-weight="bold" textLength="27.58" lengthAdjust="spacingAndGlyphs">Footware</text>
<text x="407.8" y="357.08" font-size="6.3" fill="#777" textLength="16.13" lengthAdjust="spacingAndGlyphs">Socks</text>
<rect x="451.2" y="350.72" width="12" height="7.98" fill="#3f9c75"/>
<text x="493.8" y="357.04" font-size="6.2" fill="#666" text-anchor="end" textLength="29.17" lengthAdjust="spacingAndGlyphs">$1,068,069</text>
<clipPath id="cv4"><rect x="451.2" y="350.72" width="12" height="7.98"/></clipPath>
<text x="493.8" y="357.04" font-size="6.2" fill="#27483a" text-anchor="end" textLength="29.17" lengthAdjust="spacingAndGlyphs" clip-path="url(#cv4)">$1,068,069</text>
<text x="540" y="357.04" font-size="6.2" fill="#666" text-anchor="end" textLength="30.5" lengthAdjust="spacingAndGlyphs">$4,295,076</text>
<text x="591.3" y="357.04" font-size="6.2" fill="#e58d84" text-anchor="end" textLength="37.91" lengthAdjust="spacingAndGlyphs">(3,227,006.76)</text>
<text x="634.1" y="357.04" font-size="6.2" fill="#666" text-anchor="end" textLength="13.61" lengthAdjust="spacingAndGlyphs">-75%</text>
<line x1="340.4" y1="369.88" x2="636" y2="369.88" stroke="#d2d6de" stroke-width="0.7"/>
<text x="407.8" y="367.26" font-size="6.3" fill="#777" textLength="16.79" lengthAdjust="spacingAndGlyphs">Shoes</text>
<rect x="451.2" y="360.9" width="22.4" height="7.98" fill="#3f9c75"/>
<text x="493.8" y="367.22" font-size="6.2" fill="#666" text-anchor="end" textLength="29.17" lengthAdjust="spacingAndGlyphs">$1,865,063</text>
<clipPath id="cv5"><rect x="451.2" y="360.9" width="22.4" height="7.98"/></clipPath>
<text x="493.8" y="367.22" font-size="6.2" fill="#27483a" text-anchor="end" textLength="29.17" lengthAdjust="spacingAndGlyphs" clip-path="url(#cv5)">$1,865,063</text>
<text x="540" y="367.22" font-size="6.2" fill="#666" text-anchor="end" textLength="30.5" lengthAdjust="spacingAndGlyphs">$4,295,076</text>
<text x="591.3" y="367.22" font-size="6.2" fill="#e58d84" text-anchor="end" textLength="37.91" lengthAdjust="spacingAndGlyphs">(2,430,013.35)</text>
<text x="634.1" y="367.22" font-size="6.2" fill="#666" text-anchor="end" textLength="13.61" lengthAdjust="spacingAndGlyphs">-57%</text>
<line x1="340.4" y1="380.06" x2="636" y2="380.06" stroke="#d2d6de" stroke-width="0.7"/>
<text x="407.8" y="377.44" font-size="6.3" fill="#777" textLength="21.4" lengthAdjust="spacingAndGlyphs">Sandals</text>
<rect x="451.2" y="371.08" width="14" height="7.98" fill="#3f9c75"/>
<text x="493.8" y="377.4" font-size="6.2" fill="#666" text-anchor="end" textLength="29.17" lengthAdjust="spacingAndGlyphs">$1,201,370</text>
<clipPath id="cv6"><rect x="451.2" y="371.08" width="14" height="7.98"/></clipPath>
<text x="493.8" y="377.4" font-size="6.2" fill="#27483a" text-anchor="end" textLength="29.17" lengthAdjust="spacingAndGlyphs" clip-path="url(#cv6)">$1,201,370</text>
<text x="540" y="377.4" font-size="6.2" fill="#666" text-anchor="end" textLength="30.5" lengthAdjust="spacingAndGlyphs">$4,295,076</text>
<text x="591.3" y="377.4" font-size="6.2" fill="#e58d84" text-anchor="end" textLength="37.91" lengthAdjust="spacingAndGlyphs">(3,093,705.82)</text>
<text x="634.1" y="377.4" font-size="6.2" fill="#666" text-anchor="end" textLength="13.61" lengthAdjust="spacingAndGlyphs">-72%</text>
<line x1="340.4" y1="390.24" x2="636" y2="390.24" stroke="#d2d6de" stroke-width="0.7"/>
<text x="342" y="387.72" font-size="6.6" fill="#2a2f3d" font-weight="bold" textLength="36.56" lengthAdjust="spacingAndGlyphs">Accessories</text>
<text x="407.8" y="387.62" font-size="6.3" fill="#777" textLength="48.05" lengthAdjust="spacingAndGlyphs">Other Accessories</text>
<rect x="451.2" y="381.26" width="7" height="7.98" fill="#3f9c75"/>
<text x="493.8" y="387.58" font-size="6.2" fill="#666" text-anchor="end" textLength="24.31" lengthAdjust="spacingAndGlyphs">$592,256</text>
<clipPath id="cv7"><rect x="451.2" y="381.26" width="7" height="7.98"/></clipPath>
<text x="493.8" y="387.58" font-size="6.2" fill="#27483a" text-anchor="end" textLength="24.31" lengthAdjust="spacingAndGlyphs" clip-path="url(#cv7)">$592,256</text>
<text x="540" y="387.58" font-size="6.2" fill="#666" text-anchor="end" textLength="30.5" lengthAdjust="spacingAndGlyphs">$4,295,076</text>
<text x="591.3" y="387.58" font-size="6.2" fill="#e58d84" text-anchor="end" textLength="37.91" lengthAdjust="spacingAndGlyphs">(3,702,819.73)</text>
<text x="634.1" y="387.58" font-size="6.2" fill="#666" text-anchor="end" textLength="13.61" lengthAdjust="spacingAndGlyphs">-86%</text>
<line x1="340.4" y1="400.42" x2="636" y2="400.42" stroke="#d2d6de" stroke-width="0.7"/>
<text x="407.8" y="397.8" font-size="6.3" fill="#777" textLength="12.18" lengthAdjust="spacingAndGlyphs">Hats</text>
<rect x="451.2" y="391.44" width="7.8" height="7.98" fill="#3f9c75"/>
<text x="493.8" y="397.76" font-size="6.2" fill="#666" text-anchor="end" textLength="24.31" lengthAdjust="spacingAndGlyphs">$662,699</text>
<clipPath id="cv8"><rect x="451.2" y="391.44" width="7.8" height="7.98"/></clipPath>
<text x="493.8" y="397.76" font-size="6.2" fill="#27483a" text-anchor="end" textLength="24.31" lengthAdjust="spacingAndGlyphs" clip-path="url(#cv8)">$662,699</text>
<text x="540" y="397.76" font-size="6.2" fill="#666" text-anchor="end" textLength="30.5" lengthAdjust="spacingAndGlyphs">$4,295,076</text>
<text x="591.3" y="397.76" font-size="6.2" fill="#e58d84" text-anchor="end" textLength="37.91" lengthAdjust="spacingAndGlyphs">(3,632,377.25)</text>
<text x="634.1" y="397.76" font-size="6.2" fill="#666" text-anchor="end" textLength="13.61" lengthAdjust="spacingAndGlyphs">-85%</text>
<line x1="340.4" y1="410.6" x2="636" y2="410.6" stroke="#d2d6de" stroke-width="0.7"/>
<text x="407.8" y="407.98" font-size="6.3" fill="#777" textLength="13.17" lengthAdjust="spacingAndGlyphs">Belts</text>
<rect x="451.2" y="401.62" width="10.6" height="7.98" fill="#3f9c75"/>
<text x="493.8" y="407.94" font-size="6.2" fill="#666" text-anchor="end" textLength="24.31" lengthAdjust="spacingAndGlyphs">$881,853</text>
<clipPath id="cv9"><rect x="451.2" y="401.62" width="10.6" height="7.98"/></clipPath>
<text x="493.8" y="407.94" font-size="6.2" fill="#27483a" text-anchor="end" textLength="24.31" lengthAdjust="spacingAndGlyphs" clip-path="url(#cv9)">$881,853</text>
<text x="540" y="407.94" font-size="6.2" fill="#666" text-anchor="end" textLength="30.5" lengthAdjust="spacingAndGlyphs">$4,295,076</text>
<text x="591.3" y="407.94" font-size="6.2" fill="#e58d84" text-anchor="end" textLength="37.91" lengthAdjust="spacingAndGlyphs">(3,413,222.84)</text>
<text x="634.1" y="407.94" font-size="6.2" fill="#666" text-anchor="end" textLength="13.61" lengthAdjust="spacingAndGlyphs">-79%</text>
<path transform="translate(466.3 382.8)" d="M3.6 1.2c0-1.3 1.9-1.3 1.9 0v4.600l.4-.9c1.200-.4 1.700.1 1.800.6 1.100-.3 1.600.2 1.700.8 1.100-.2 1.600.5 1.600 1.300v3c0 2-.8 2.700-1 3.800h-5.400c-.8-1.800-2.800-3.600-3.600-5.100-.5-1 .8-1.800 1.700-.9l1 1z" fill="#fff" stroke="#222" stroke-width=".8" stroke-linejoin="round"/>
<path d="M631.6 428.8V432H628.4" fill="none" stroke="#8a8a8a" stroke-width=".9"/>
</svg>
</section>
<section class="tile" aria-label="T-Shirt Forecast, Sales &amp; Growth" style="left:642.8px;top:164.5px;width:297.2px;height:202.8px">
<h3 class="t tt" style="left:5.1px;top:10.35px;font-size:9.1px;line-height:9.1px;letter-spacing:-0.285px;color:#505050;">T-Shirt Forecast, Sales &amp; Growth</h3>
<h4 class="t ts" style="left:5.2px;top:22px;font-size:5.4px;line-height:5.4px;letter-spacing:0.379px;color:#707070;">BY QUARTER</h4>
<svg class="viz" viewBox="642.8 234 290.2 202.8" width="290.2" height="202.8" style="left:0px;top:0px">
<rect x="820.6" y="271.4" width="8.6" height="3.2" fill="#2f6bd2"/>
<text x="830.3" y="274.93" font-size="5.6" fill="#555" textLength="31.7" lengthAdjust="spacingAndGlyphs">Actual Sales</text>
<line x1="875" y1="273" x2="884" y2="273" stroke="#9bb7e6" stroke-width="1"/>
<text x="885" y="274.93" font-size="5.6" fill="#555" textLength="34" lengthAdjust="spacingAndGlyphs">Sales YoY %</text>
<line x1="684.9" y1="403.4" x2="903.9" y2="403.4" stroke="#e6e6e6" stroke-width="0.7"/>
<text x="660.5" y="405.26" font-size="5.4" fill="#777" textLength="16.5" lengthAdjust="spacingAndGlyphs">$0.0M</text>
<line x1="684.9" y1="391.87" x2="903.9" y2="391.87" stroke="#e6e6e6" stroke-width="0.7"/>
<text x="660.5" y="393.73" font-size="5.4" fill="#777" textLength="16.5" lengthAdjust="spacingAndGlyphs">$0.5M</text>
<line x1="684.9" y1="380.34" x2="903.9" y2="380.34" stroke="#e6e6e6" stroke-width="0.7"/>
<text x="660.5" y="382.2" font-size="5.4" fill="#777" textLength="16.5" lengthAdjust="spacingAndGlyphs">$1.0M</text>
<line x1="684.9" y1="368.81" x2="903.9" y2="368.81" stroke="#e6e6e6" stroke-width="0.7"/>
<text x="660.5" y="370.67" font-size="5.4" fill="#777" textLength="16.5" lengthAdjust="spacingAndGlyphs">$1.5M</text>
<line x1="684.9" y1="357.28" x2="903.9" y2="357.28" stroke="#e6e6e6" stroke-width="0.7"/>
<text x="660.5" y="359.14" font-size="5.4" fill="#777" textLength="16.5" lengthAdjust="spacingAndGlyphs">$2.0M</text>
<line x1="684.9" y1="345.75" x2="903.9" y2="345.75" stroke="#e6e6e6" stroke-width="0.7"/>
<text x="660.5" y="347.61" font-size="5.4" fill="#777" textLength="16.5" lengthAdjust="spacingAndGlyphs">$2.5M</text>
<line x1="684.9" y1="334.22" x2="903.9" y2="334.22" stroke="#e6e6e6" stroke-width="0.7"/>
<text x="660.5" y="336.08" font-size="5.4" fill="#777" textLength="16.5" lengthAdjust="spacingAndGlyphs">$3.0M</text>
<line x1="684.9" y1="322.69" x2="903.9" y2="322.69" stroke="#e6e6e6" stroke-width="0.7"/>
<text x="660.5" y="324.55" font-size="5.4" fill="#777" textLength="16.5" lengthAdjust="spacingAndGlyphs">$3.5M</text>
<line x1="684.9" y1="311.16" x2="903.9" y2="311.16" stroke="#e6e6e6" stroke-width="0.7"/>
<text x="660.5" y="313.02" font-size="5.4" fill="#777" textLength="16.5" lengthAdjust="spacingAndGlyphs">$4.0M</text>
<line x1="684.9" y1="299.63" x2="903.9" y2="299.63" stroke="#e6e6e6" stroke-width="0.7"/>
<text x="660.5" y="301.49" font-size="5.4" fill="#777" textLength="16.5" lengthAdjust="spacingAndGlyphs">$4.5M</text>
<line x1="684.9" y1="288.1" x2="903.9" y2="288.1" stroke="#e6e6e6" stroke-width="0.7"/>
<text x="660.5" y="289.96" font-size="5.4" fill="#777" textLength="16.5" lengthAdjust="spacingAndGlyphs">$5.0M</text>
<text x="911" y="405.26" font-size="5.4" fill="#777" textLength="9.2" lengthAdjust="spacingAndGlyphs">0%</text>
<text x="911" y="388.79" font-size="5.4" fill="#777" textLength="9.2" lengthAdjust="spacingAndGlyphs">5%</text>
<text x="911" y="372.32" font-size="5.4" fill="#777" textLength="12.7" lengthAdjust="spacingAndGlyphs">10%</text>
<text x="911" y="355.85" font-size="5.4" fill="#777" textLength="12.7" lengthAdjust="spacingAndGlyphs">15%</text>
<text x="911" y="339.38" font-size="5.4" fill="#777" textLength="12.7" lengthAdjust="spacingAndGlyphs">20%</text>
<text x="911" y="322.91" font-size="5.4" fill="#777" textLength="12.7" lengthAdjust="spacingAndGlyphs">25%</text>
<text x="911" y="306.44" font-size="5.4" fill="#777" textLength="12.7" lengthAdjust="spacingAndGlyphs">30%</text>
<text x="911" y="289.97" font-size="5.4" fill="#777" textLength="12.7" lengthAdjust="spacingAndGlyphs">35%</text>
<rect x="699.2" y="350.6" width="13.9" height="52.8" fill="#2f6bd2"/>
<text x="706.15" y="414.66" font-size="5.4" fill="#777" text-anchor="middle" textLength="10.8" lengthAdjust="spacingAndGlyphs">FY11</text>
<rect x="743.4" y="346.7" width="13.9" height="56.7" fill="#2f6bd2"/>
<text x="750.35" y="414.66" font-size="5.4" fill="#777" text-anchor="middle" textLength="10.8" lengthAdjust="spacingAndGlyphs">FY12</text>
<rect x="787.2" y="339.1" width="13.9" height="64.3" fill="#2f6bd2"/>
<text x="794.15" y="414.66" font-size="5.4" fill="#777" text-anchor="middle" textLength="10.8" lengthAdjust="spacingAndGlyphs">FY13</text>
<rect x="831.4" y="325.5" width="13.9" height="77.9" fill="#2f6bd2"/>
<text x="838.35" y="414.66" font-size="5.4" fill="#777" text-anchor="middle" textLength="10.8" lengthAdjust="spacingAndGlyphs">FY14</text>
<rect x="875.5" y="302.1" width="13.9" height="101.3" fill="#2f6bd2"/>
<text x="882.45" y="414.66" font-size="5.4" fill="#777" text-anchor="middle" textLength="10.8" lengthAdjust="spacingAndGlyphs">FY15</text>
<polyline points="750.3,379.7 794.2,362.8 838.4,332.3 882.5,307.9" fill="none" stroke="#9bb7e6" stroke-width="1.1"/>
<circle cx="750.3" cy="379.7" r="1" fill="#e9f0fb"/>
<circle cx="794.2" cy="362.8" r="1" fill="#e9f0fb"/>
<circle cx="838.4" cy="332.3" r="1" fill="#e9f0fb"/>
<circle cx="882.5" cy="307.9" r="1" fill="#e9f0fb"/>
</svg>
</section>
<section class="tile" aria-label="P&amp;L Summary, Financial Summary" style="left:37px;top:268.5px;width:297.8px;height:205px">
<h3 class="t tt" style="left:6.6px;top:10.45px;font-size:9.1px;line-height:9.1px;letter-spacing:-0.316px;color:#505050;">P&amp;L Summary, Financial Summary</h3>
<h4 class="t ts" style="left:6.6px;top:23.3px;font-size:5.4px;line-height:5.4px;letter-spacing:0.399px;color:#707070;">COST BREAKDOWN</h4>
<svg class="viz" viewBox="37 338 297.8 205" width="297.8" height="205" style="left:0px;top:0px">
<defs><filter id="sh" x="-20%" y="-20%" width="150%" height="150%"><feGaussianBlur stdDeviation="2"/></filter></defs>
<path d="M176.4 454.8L213.33 382.94A80.8 80.8 0 1 1 95.76 459.87Z" fill="#7b51b3" stroke="#fff" stroke-width="1"/>
<path d="M176.4 454.8L176.4 374A80.8 80.8 0 0 1 213.33 382.94Z" fill="#1a66d8" stroke="#fff" stroke-width="1"/>
<path d="M169.7 450.1L89.06 455.17A80.8 80.8 0 0 1 169.7 369.3Z" fill="#000" opacity=".28" filter="url(#sh)"/>
<path d="M168.2 447.1L87.56 452.17A80.8 80.8 0 0 1 168.2 366.3Z" fill="#0f7b5b" stroke="#fff" stroke-width="1"/>
<polyline points="197,377.6 205,375.3 228.6,376.2" fill="none" stroke="#c9c9c9" stroke-width=".7"/>
<text x="139.5" y="417.15" font-size="8" fill="#b9dfd1" text-anchor="middle" textLength="41" lengthAdjust="spacingAndGlyphs">Net Income</text>
<text x="139.5" y="429.15" font-size="8" fill="#b9dfd1" text-anchor="middle" textLength="20" lengthAdjust="spacingAndGlyphs">$1.3M</text>
<text x="198.3" y="479.55" font-size="8" fill="#d6c8ec" text-anchor="middle" textLength="27.5" lengthAdjust="spacingAndGlyphs">Variable</text>
<text x="198.3" y="490.75" font-size="8" fill="#d6c8ec" text-anchor="middle" textLength="19.5" lengthAdjust="spacingAndGlyphs">Costs</text>
<text x="198.3" y="501.95" font-size="8" fill="#d6c8ec" text-anchor="middle" textLength="20" lengthAdjust="spacingAndGlyphs">$3.3M</text>
<text x="251" y="377.85" font-size="8" fill="#777" text-anchor="middle" textLength="39.3" lengthAdjust="spacingAndGlyphs">Fixed Costs</text>
<text x="251" y="389.05" font-size="8" fill="#777" text-anchor="middle" textLength="20.5" lengthAdjust="spacingAndGlyphs">$0.4M</text>
</svg>
</section>
<section class="tile" aria-label="P&amp;L Summary, Fixed Costs" style="left:339.8px;top:373px;width:448.7px;height:137.5px">
<h3 class="t tt" style="left:5.8px;top:10.25px;font-size:9.1px;line-height:9.1px;letter-spacing:-0.369px;color:#505050;">P&amp;L Summary, Fixed Costs</h3>
<h4 class="t ts" style="left:5.8px;top:23.4px;font-size:5.4px;line-height:5.4px;letter-spacing:0.355px;color:#707070;">OVER TIME</h4>
<svg class="viz" viewBox="339.8 442.5 448.7 137.5" width="448.7" height="137.5" style="left:0px;top:0px">
<line x1="370.4" y1="495.2" x2="760" y2="495.2" stroke="#e6e6e6" stroke-width="0.7"/>
<text x="345.6" y="497.06" font-size="5.4" fill="#777" textLength="16.7" lengthAdjust="spacingAndGlyphs">40,000</text>
<line x1="370.4" y1="508.1" x2="760" y2="508.1" stroke="#e6e6e6" stroke-width="0.7"/>
<text x="345.6" y="509.96" font-size="5.4" fill="#777" textLength="16.7" lengthAdjust="spacingAndGlyphs">35,000</text>
<line x1="370.4" y1="521" x2="760" y2="521" stroke="#e6e6e6" stroke-width="0.7"/>
<text x="345.6" y="522.86" font-size="5.4" fill="#777" textLength="16.7" lengthAdjust="spacingAndGlyphs">30,000</text>
<line x1="370.4" y1="533.9" x2="760" y2="533.9" stroke="#e6e6e6" stroke-width="0.7"/>
<text x="345.6" y="535.76" font-size="5.4" fill="#777" textLength="16.7" lengthAdjust="spacingAndGlyphs">25,000</text>
<line x1="370.4" y1="546.8" x2="760" y2="546.8" stroke="#e6e6e6" stroke-width="0.7"/>
<text x="345.6" y="548.66" font-size="5.4" fill="#777" textLength="16.7" lengthAdjust="spacingAndGlyphs">20,000</text>
<line x1="370.4" y1="559.7" x2="760" y2="559.7" stroke="#e6e6e6" stroke-width="0.7"/>
<text x="345.6" y="561.56" font-size="5.4" fill="#777" textLength="16.7" lengthAdjust="spacingAndGlyphs">15,000</text>
<text x="765.8" y="497.27" font-size="5.4" fill="#777" textLength="16.7" lengthAdjust="spacingAndGlyphs">$450K</text>
<text x="765.8" y="508.74" font-size="5.4" fill="#777" textLength="16.7" lengthAdjust="spacingAndGlyphs">$400K</text>
<text x="765.8" y="520.2" font-size="5.4" fill="#777" textLength="16.7" lengthAdjust="spacingAndGlyphs">$350K</text>
<text x="765.8" y="531.67" font-size="5.4" fill="#777" textLength="16.7" lengthAdjust="spacingAndGlyphs">$300K</text>
<text x="765.8" y="543.13" font-size="5.4" fill="#777" textLength="16.7" lengthAdjust="spacingAndGlyphs">$250K</text>
<text x="765.8" y="554.6" font-size="5.4" fill="#777" textLength="16.7" lengthAdjust="spacingAndGlyphs">$200K</text>
<text x="765.8" y="566.06" font-size="5.4" fill="#777" textLength="16.7" lengthAdjust="spacingAndGlyphs">$150K</text>
<rect x="379.3" y="584.84" width="15.4" height="0.16" fill="#b5caee"/>
<text x="387" y="581.23" font-size="5.2" fill="#555" text-anchor="middle" textLength="14.5" lengthAdjust="spacingAndGlyphs">$60K</text>
<rect x="411.5" y="579.8" width="15.4" height="5.2" fill="#b5caee"/>
<text x="419.2" y="576.19" font-size="5.2" fill="#555" text-anchor="middle" textLength="14.5" lengthAdjust="spacingAndGlyphs">$82K</text>
<rect x="443.7" y="574.75" width="15.4" height="10.25" fill="#b5caee"/>
<text x="451.4" y="571.14" font-size="5.2" fill="#555" text-anchor="middle" textLength="14.5" lengthAdjust="spacingAndGlyphs">$104K</text>
<rect x="475.9" y="566.96" width="15.4" height="18.04" fill="#b5caee"/>
<text x="483.6" y="563.35" font-size="5.2" fill="#555" text-anchor="middle" textLength="14.5" lengthAdjust="spacingAndGlyphs">$138K</text>
<rect x="508.1" y="560.31" width="15.4" height="24.69" fill="#b5caee"/>
<text x="515.8" y="556.7" font-size="5.2" fill="#555" text-anchor="middle" textLength="14.5" lengthAdjust="spacingAndGlyphs">$167K</text>
<rect x="540.3" y="555.03" width="15.4" height="29.97" fill="#b5caee"/>
<text x="548" y="551.42" font-size="5.2" fill="#555" text-anchor="middle" textLength="14.5" lengthAdjust="spacingAndGlyphs">$190K</text>
<rect x="572.5" y="545.63" width="15.4" height="39.37" fill="#b5caee"/>
<text x="580.2" y="542.02" font-size="5.2" fill="#555" text-anchor="middle" textLength="14.5" lengthAdjust="spacingAndGlyphs">$231K</text>
<rect x="604.7" y="538.98" width="15.4" height="46.02" fill="#b5caee"/>
<text x="612.4" y="535.37" font-size="5.2" fill="#555" text-anchor="middle" textLength="14.5" lengthAdjust="spacingAndGlyphs">$260K</text>
<rect x="636.9" y="532.33" width="15.4" height="52.67" fill="#b5caee"/>
<text x="644.6" y="528.72" font-size="5.2" fill="#555" text-anchor="middle" textLength="14.5" lengthAdjust="spacingAndGlyphs">$289K</text>
<rect x="669.1" y="523.62" width="15.4" height="61.38" fill="#b5caee"/>
<text x="676.8" y="520.01" font-size="5.2" fill="#555" text-anchor="middle" textLength="14.5" lengthAdjust="spacingAndGlyphs">$327K</text>
<rect x="701.3" y="516.97" width="15.4" height="68.03" fill="#b5caee"/>
<text x="709" y="513.36" font-size="5.2" fill="#555" text-anchor="middle" textLength="14.5" lengthAdjust="spacingAndGlyphs">$356K</text>
<rect x="733.5" y="510.32" width="15.4" height="74.68" fill="#b5caee"/>
<text x="741.2" y="506.71" font-size="5.2" fill="#555" text-anchor="middle" textLength="14.5" lengthAdjust="spacingAndGlyphs">$385K</text>
<polyline points="387,508.1 419.2,546.8 451.4,546.8 483.6,533.9 515.8,546.8 548,546.8 580.2,533.9 612.4,546.8 644.6,546.8 676.8,521.52 709,546.8 741.2,546.8" fill="none" stroke="#44558c" stroke-width="1.1" stroke-linejoin="round"/>
</svg>
</section>
<section class="tile" aria-label="Units" style="left:793.2px;top:373px;width:146.8px;height:137.5px">
<h3 class="t tt" style="left:6px;top:10.25px;font-size:9.1px;line-height:9.1px;letter-spacing:-0.207px;color:#505050;">Units</h3>
<h4 class="t ts" style="left:6px;top:23.4px;font-size:5.4px;line-height:5.4px;letter-spacing:0.394px;color:#707070;">BY PRODID, SALE SIZE</h4>
<svg class="viz" viewBox="793.2 442.5 139.8 137.5" width="139.8" height="137.5" style="left:0px;top:0px">
<line x1="814.7" y1="516.8" x2="933" y2="516.8" stroke="#ededed" stroke-width="0.7"/>
<line x1="814.7" y1="561.8" x2="933" y2="561.8" stroke="#ededed" stroke-width="0.7"/>
<text x="801.2" y="519.54" font-size="6.8" fill="#777" textLength="9.6" lengthAdjust="spacingAndGlyphs">100</text>
<text x="804.4" y="563.84" font-size="6.8" fill="#777" textLength="6.4" lengthAdjust="spacingAndGlyphs">50</text>
<polygon points="883.78,516.17 882.29,522.39 881.04,528.61 879.55,534.83 877.94,541.04 877.06,544.78 877.31,547.89 874.83,552.24 871.72,558.46 869.85,564.68 868.86,571.02 868.36,579.6 899.7,579.6 899.08,571.02 897.84,564.68 895.97,558.46 892.86,552.24 890.37,547.89 891,543.53 889.75,539.8 888.26,534.83 886.64,528.61 885.02,522.39 883.78,516.17" fill="#1787b6" stroke="#1787b6" stroke-width=".6" stroke-linejoin="round"/>
<line x1="883.8" y1="545.4" x2="883.8" y2="580" stroke="#0b3a5c" stroke-width="1.2"/>
</svg>
</section>
<section class="tile" aria-label="T-Shirt Forecast, 5Yr Product History" style="left:37px;top:478.5px;width:297.8px;height:32px">
<h3 class="t tt" style="left:6.6px;top:10.05px;font-size:9.1px;line-height:9.1px;letter-spacing:-0.286px;color:#505050;">T-Shirt Forecast, 5Yr Product History</h3>
<h4 class="t ts" style="left:6.6px;top:22.8px;font-size:5.4px;line-height:5.4px;letter-spacing:0.015px;color:#707070;">PHASES</h4>
</section>
</main>
<div style="position:absolute;left:26px;top:570.2px;width:907px;height:.8px;background:#b4b4b4"></div>
</body></html>
